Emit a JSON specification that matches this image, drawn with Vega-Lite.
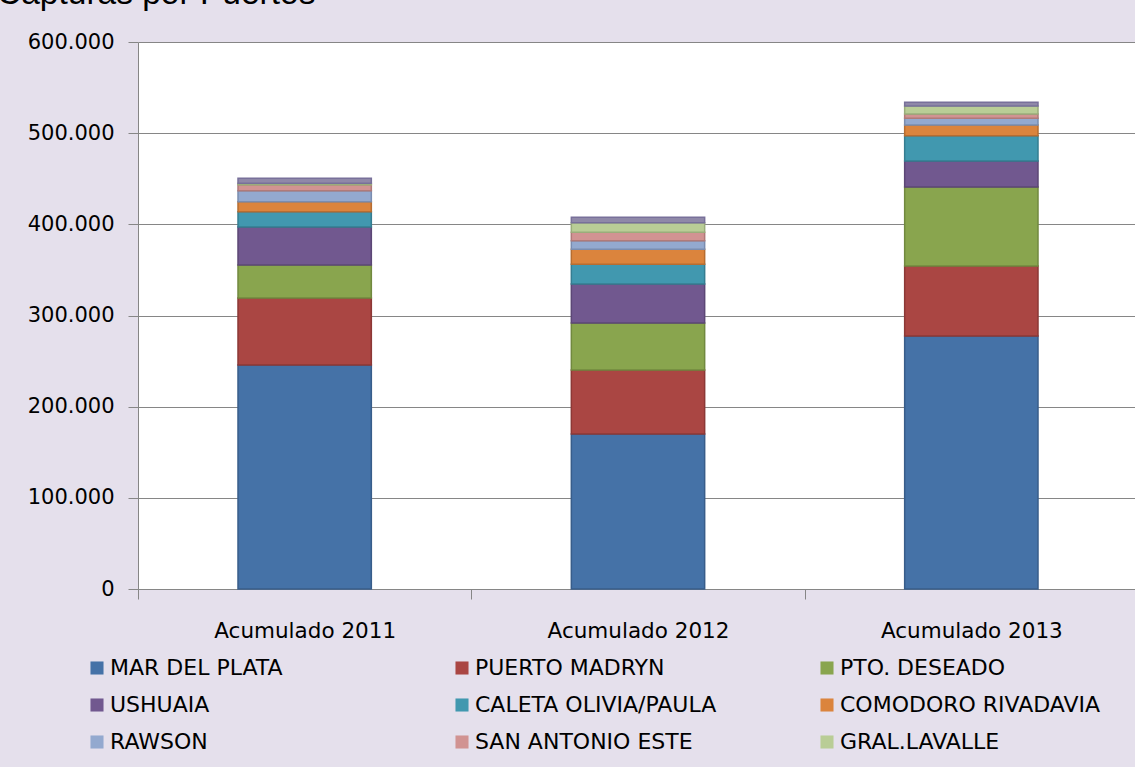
{
  "$schema": "https://vega.github.io/schema/vega-lite/v6.json",
  "width": 1000,
  "height": 547,
  "autosize": {"type": "none"},
  "padding": {"left": 138, "top": 42, "right": 0, "bottom": 178},
  "background": "#E5E0EC",
  "config": {
    "locale": {"number": {"decimal": ",", "thousands": ".", "grouping": [3], "currency": ["", ""]}},
    "view": {"fill": "#FFFFFF", "stroke": null},
    "font": "DejaVu Sans"
  },
  "title": {
    "text": "Capturas por Puertos",
    "anchor": "start",
    "frame": "group",
    "dx": -141,
    "dy": 21,
    "offset": 15,
    "baseline": "alphabetic",
    "font": "Liberation Sans",
    "fontSize": 33.5,
    "fontWeight": "normal",
    "color": "#000000"
  },
  "data": {
    "values": [
      {"periodo": "Acumulado 2011", "puerto": "MAR DEL PLATA", "orden": 1, "toneladas": 245700},
      {"periodo": "Acumulado 2011", "puerto": "PUERTO MADRYN", "orden": 2, "toneladas": 73500},
      {"periodo": "Acumulado 2011", "puerto": "PTO. DESEADO", "orden": 3, "toneladas": 36200},
      {"periodo": "Acumulado 2011", "puerto": "USHUAIA", "orden": 4, "toneladas": 41700},
      {"periodo": "Acumulado 2011", "puerto": "CALETA OLIVIA/PAULA", "orden": 5, "toneladas": 16700},
      {"periodo": "Acumulado 2011", "puerto": "COMODORO RIVADAVIA", "orden": 6, "toneladas": 11000},
      {"periodo": "Acumulado 2011", "puerto": "RAWSON", "orden": 7, "toneladas": 12100},
      {"periodo": "Acumulado 2011", "puerto": "SAN ANTONIO ESTE", "orden": 8, "toneladas": 6400},
      {"periodo": "Acumulado 2011", "puerto": "GRAL.LAVALLE", "orden": 9, "toneladas": 1800},
      {"periodo": "Acumulado 2011", "puerto": "OTROS", "orden": 10, "toneladas": 5400},
      {"periodo": "Acumulado 2012", "puerto": "MAR DEL PLATA", "orden": 1, "toneladas": 170000},
      {"periodo": "Acumulado 2012", "puerto": "PUERTO MADRYN", "orden": 2, "toneladas": 70200},
      {"periodo": "Acumulado 2012", "puerto": "PTO. DESEADO", "orden": 3, "toneladas": 51600},
      {"periodo": "Acumulado 2012", "puerto": "USHUAIA", "orden": 4, "toneladas": 42700},
      {"periodo": "Acumulado 2012", "puerto": "CALETA OLIVIA/PAULA", "orden": 5, "toneladas": 21600},
      {"periodo": "Acumulado 2012", "puerto": "COMODORO RIVADAVIA", "orden": 6, "toneladas": 16500},
      {"periodo": "Acumulado 2012", "puerto": "RAWSON", "orden": 7, "toneladas": 9400},
      {"periodo": "Acumulado 2012", "puerto": "SAN ANTONIO ESTE", "orden": 8, "toneladas": 9200},
      {"periodo": "Acumulado 2012", "puerto": "GRAL.LAVALLE", "orden": 9, "toneladas": 10600},
      {"periodo": "Acumulado 2012", "puerto": "OTROS", "orden": 10, "toneladas": 5900},
      {"periodo": "Acumulado 2013", "puerto": "MAR DEL PLATA", "orden": 1, "toneladas": 277500},
      {"periodo": "Acumulado 2013", "puerto": "PUERTO MADRYN", "orden": 2, "toneladas": 76800},
      {"periodo": "Acumulado 2013", "puerto": "PTO. DESEADO", "orden": 3, "toneladas": 86600},
      {"periodo": "Acumulado 2013", "puerto": "USHUAIA", "orden": 4, "toneladas": 28600},
      {"periodo": "Acumulado 2013", "puerto": "CALETA OLIVIA/PAULA", "orden": 5, "toneladas": 27700},
      {"periodo": "Acumulado 2013", "puerto": "COMODORO RIVADAVIA", "orden": 6, "toneladas": 11700},
      {"periodo": "Acumulado 2013", "puerto": "RAWSON", "orden": 7, "toneladas": 7400},
      {"periodo": "Acumulado 2013", "puerto": "SAN ANTONIO ESTE", "orden": 8, "toneladas": 4700},
      {"periodo": "Acumulado 2013", "puerto": "GRAL.LAVALLE", "orden": 9, "toneladas": 8800},
      {"periodo": "Acumulado 2013", "puerto": "OTROS", "orden": 10, "toneladas": 4000}
    ]
  },
  "mark": {"type": "bar", "width": {"band": 0.4}, "strokeWidth": 1.5},
  "encoding": {
    "x": {
      "field": "periodo",
      "type": "nominal",
      "scale": {"paddingInner": 0, "paddingOuter": 0},
      "axis": {
        "title": null,
        "labelAngle": 0,
        "labelFontSize": 21.5,
        "labelLimit": 400,
        "labelColor": "#000000",
        "labelPadding": 21,
        "tickBand": "extent",
        "tickSize": 10,
        "tickColor": "#868686",
        "domainColor": "#868686",
        "grid": false
      }
    },
    "y": {
      "field": "toneladas",
      "type": "quantitative",
      "stack": "zero",
      "scale": {"domain": [0, 600000], "nice": false},
      "axis": {
        "title": null,
        "values": [0, 100000, 200000, 300000, 400000, 500000, 600000],
        "format": ",d",
        "labelFontSize": 21,
        "labelColor": "#000000",
        "labelPadding": 14,
        "tickSize": 10,
        "tickColor": "#868686",
        "domainColor": "#868686",
        "gridColor": "#868686",
        "gridOpacity": 1
      }
    },
    "order": {"field": "orden", "type": "quantitative", "sort": "ascending"},
    "fill": {
      "field": "puerto",
      "type": "nominal",
      "scale": {
        "domain": ["MAR DEL PLATA", "PUERTO MADRYN", "PTO. DESEADO", "USHUAIA", "CALETA OLIVIA/PAULA", "COMODORO RIVADAVIA", "RAWSON", "SAN ANTONIO ESTE", "GRAL.LAVALLE", "OTROS"],
        "range": ["#4572A7", "#AA4643", "#89A54E", "#71588F", "#4198AF", "#DB843D", "#93A9CF", "#D19392", "#B9CD96", "#8F88A8"]
      },
      "legend": {
        "title": null,
        "orient": "none",
        "legendX": -52,
        "legendY": 615,
        "direction": "horizontal",
        "columns": 3,
        "values": ["MAR DEL PLATA", "PUERTO MADRYN", "PTO. DESEADO", "USHUAIA", "CALETA OLIVIA/PAULA", "COMODORO RIVADAVIA", "RAWSON", "SAN ANTONIO ESTE", "GRAL.LAVALLE"],
        "symbolType": "square",
        "symbolSize": 170,
        "symbolStrokeWidth": 0,
        "symbolOpacity": 1,
        "labelFont": "DejaVu Sans",
        "labelFontSize": 22,
        "labelColor": "#000000",
        "labelOffset": 2,
        "labelLimit": 400,
        "gridAlign": "all",
        "columnPadding": 80,
        "rowPadding": 15
      }
    },
    "stroke": {
      "field": "puerto",
      "type": "nominal",
      "scale": {
        "domain": ["MAR DEL PLATA", "PUERTO MADRYN", "PTO. DESEADO", "USHUAIA", "CALETA OLIVIA/PAULA", "COMODORO RIVADAVIA", "RAWSON", "SAN ANTONIO ESTE", "GRAL.LAVALLE", "OTROS"],
        "range": ["#385D8A", "#8C3836", "#71893F", "#5C4776", "#357D91", "#B66D31", "#7A8DB0", "#B07A79", "#9AAD7B", "#78709A"]
      },
      "legend": null
    }
  }
}
